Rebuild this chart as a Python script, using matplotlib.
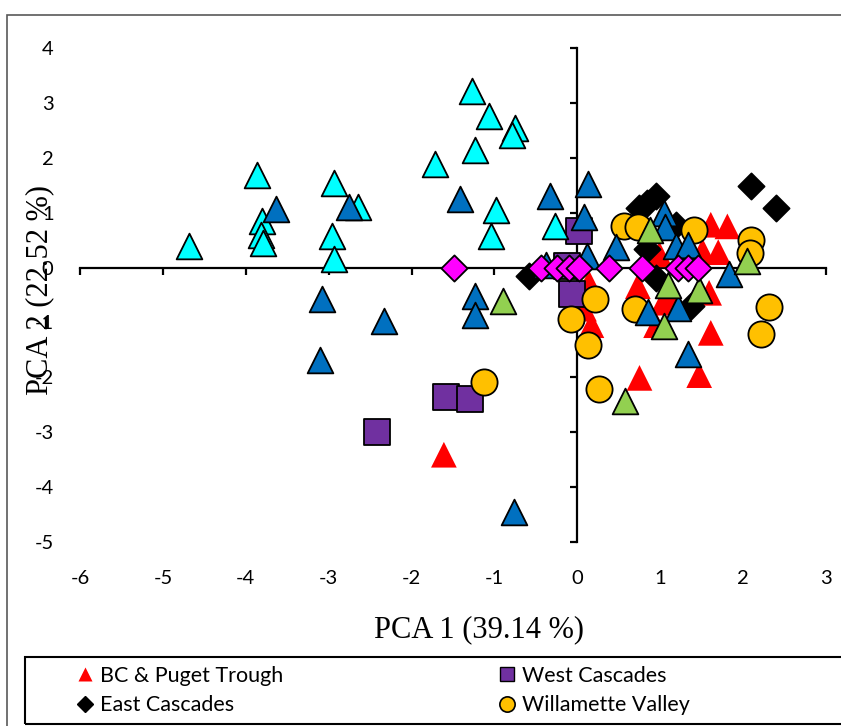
import matplotlib
matplotlib.use("Agg")
import matplotlib.pyplot as plt
from matplotlib.lines import Line2D
from matplotlib.patches import Rectangle

plt.rcParams["axes.unicode_minus"] = False

W, H, DPI = 841, 726, 100

# ---------------- data ----------------
bc_x = [-1.61, 1.61, 1.81, 1.70, 1.51, 1.61, 1.47, 0.75, 1.59, 0.73, 0.14, 0.17, 0.08,
        0.95, 1.03, 0.99, 1.37, 1.13]
bc_y = [-3.41, 0.78, 0.75, 0.28, 0.30, -1.19, -1.96, -2.01, -0.46, -0.34, -0.28, -1.05, -0.75,
        -1.05, -0.64, 0.24, 0.15, -0.50]

wc_x = [0.02, -0.12, -0.06, -1.58, -1.29, -2.42]
wc_y = [0.66, 0.02, -0.48, -2.36, -2.40, -3.00]

ec_x = [-0.58, 0.75, 0.84, 0.95, 0.84, 0.95, 1.19, 1.37, 2.09, 2.40]
ec_y = [-0.15, 1.09, 1.18, 1.31, 0.33, -0.19, 0.78, -0.70, 1.48, 1.09]

wv_x = [-1.13, -0.08, 0.13, 0.21, 0.26, 0.70, 0.56, 0.73, 1.41, 2.09, 2.08, 2.31, 2.21]
wv_y = [-2.08, -0.93, -1.41, -0.58, -2.22, -0.75, 0.75, 0.74, 0.69, 0.50, 0.26, -0.71, -1.21]

cy_x = [-4.69, -3.86, -3.80, -3.82, -3.79, -2.94, -2.65, -2.96, -2.94, -1.27, -1.07, -0.75,
        -0.79, -1.24, -1.72, -0.98, -1.04, -0.27]
cy_y = [0.40, 1.69, 0.84, 0.60, 0.44, 1.54, 1.11, 0.57, 0.16, 3.21, 2.76, 2.54,
        2.42, 2.15, 1.88, 1.04, 0.57, 0.76]

bl_x = [-3.64, -2.76, -1.41, -3.08, -2.33, -1.23, -1.23, -3.10, -0.76, -0.33, 0.13, 0.08,
        0.12, -0.38, 0.47, 1.04, 1.06, 1.19, 1.33, 1.83, 0.85, 1.21, 1.33]
bl_y = [1.07, 1.11, 1.24, -0.57, -0.98, -0.52, -0.86, -1.68, -4.46, 1.31, 1.52, 0.93,
        0.21, 0.05, 0.37, 1.00, 0.73, 0.39, 0.42, -0.12, -0.81, -0.74, -1.58]

gr_x = [-0.90, 0.88, 1.09, 1.47, 2.05, 1.05, 0.58]
gr_y = [-0.61, 0.69, -0.31, -0.40, 0.12, -1.07, -2.43]

mg_x = [-1.49, -0.44, -0.24, -0.10, 0.02, 0.38, 0.78, 1.21, 1.33, 1.45]
mg_y = [-0.01, -0.01, -0.01, -0.01, -0.01, -0.01, -0.01, -0.01, -0.01, -0.01]

x_ticks = [-6, -5, -4, -3, -2, -1, 0, 1, 2, 3]
y_ticks = [-5, -4, -3, -2, -1, 0, 1, 2, 3, 4]
x_title = "PCA 1 (39.14 %)"
y_title = "PCA 2 (22.52 %)"
legend_labels = ["BC & Puget Trough", "West Cascades", "East Cascades", "Willamette Valley"]

# ---------------- figure ----------------
fig = plt.figure(figsize=(W / DPI, H / DPI), dpi=DPI)
fig.patch.set_facecolor("white")

rect = [80 / W, 1 - 542 / H, (826 - 80) / W, (542 - 48) / H]
axl = fig.add_axes(rect, zorder=0)
ax = fig.add_axes(rect, zorder=1, sharex=axl, sharey=axl)
ax.patch.set_visible(False)

axl.set_xlim(-6, 3)
axl.set_ylim(-5, 4)
axl.set_xticks(x_ticks)
axl.set_yticks(y_ticks)

# axis lines crossing at the origin
for s in ["top", "right"]:
    axl.spines[s].set_visible(False)
axl.spines["left"].set_position(("data", 0))
axl.spines["bottom"].set_position(("data", 0))
for s in ["left", "bottom"]:
    axl.spines[s].set_linewidth(1.6)
axl.tick_params(direction="out", length=5, width=1.6,
                labelbottom=False, labelleft=False)

# tick labels at the edges of the plot area
for s in ax.spines.values():
    s.set_visible(False)
ax.tick_params(length=0, labelsize=14.5, pad=20)
ax.tick_params(axis="y", pad=19)
for lab in ax.get_xticklabels() + ax.get_yticklabels():
    lab.set_fontfamily("Lato")

ms = 18.5
lw = 1.3
ax.scatter(bc_x, bc_y, marker="^", s=ms ** 2, c="#FF0000", edgecolors="none", zorder=2)
ax.scatter(wc_x, wc_y, marker="s", s=ms ** 2, c="#7030A0", edgecolors="black", linewidths=lw, zorder=3)
ax.scatter(ec_x, ec_y, marker="D", s=(ms * 0.72) ** 2, c="black", edgecolors="black", linewidths=lw, zorder=4)
ax.scatter(wv_x, wv_y, marker="o", s=(ms * 1.02) ** 2, c="#FFC000", edgecolors="black", linewidths=lw, zorder=5)
ax.scatter(cy_x, cy_y, marker="^", s=ms ** 2, c="#00FFFF", edgecolors="black", linewidths=lw, zorder=6)
ax.scatter(bl_x, bl_y, marker="^", s=ms ** 2, c="#0070C0", edgecolors="black", linewidths=lw, zorder=7)
ax.scatter(gr_x, gr_y, marker="^", s=ms ** 2, c="#92D050", edgecolors="black", linewidths=lw, zorder=8)
ax.scatter(mg_x, mg_y, marker="D", s=(ms * 0.72) ** 2, c="#FF00FF", edgecolors="black", linewidths=lw, zorder=9)

# axis titles
fig.text(479 / W, 1 - 630 / H, x_title, family="Liberation Serif", fontsize=22,
         ha="center", va="center")
fig.text(40 / W, 1 - 290 / H, y_title, family="Liberation Serif", fontsize=22,
         ha="center", va="center", rotation=90)

# legend (row-wise order: BC, West / East, Willamette)
h_bc = Line2D([], [], ls="none", marker="^", ms=10, mfc="#FF0000", mec="none")
h_wc = Line2D([], [], ls="none", marker="s", ms=10, mfc="#7030A0", mec="black", mew=1)
h_ec = Line2D([], [], ls="none", marker="D", ms=8, mfc="black", mec="black", mew=1)
h_wv = Line2D([], [], ls="none", marker="o", ms=11, mfc="#FFC000", mec="black", mew=1.2)
handles = [h_bc, h_ec, h_wc, h_wv]
labels = [legend_labels[0], legend_labels[2], legend_labels[1], legend_labels[3]]
x0, x1 = 76, 690
leg = fig.legend(handles, labels, loc="center left",
                 bbox_to_anchor=(x0 / W, 1 - 690.5 / H, (x1 - x0) / W, 0),
                 mode="expand", ncol=2, frameon=False, borderpad=0, borderaxespad=0,
                 handlelength=0.8, handletextpad=0.3, labelspacing=0.45,
                 prop={"family": "Lato", "size": 15.5})

# legend box (extends past the right edge like the reference)
fig.patches.append(Rectangle((25 / W, 1 - 724 / H), 850 / W, 67 / H,
                             transform=fig.transFigure, fill=False,
                             edgecolor="black", linewidth=1.5))
# outer chart border
fig.patches.append(Rectangle((7 / W, -0.05), 1.2, 1 - 15 / H + 0.05,
                             transform=fig.transFigure, fill=False,
                             edgecolor="#595959", linewidth=1.2))

fig.savefig("out.png", dpi=DPI)
